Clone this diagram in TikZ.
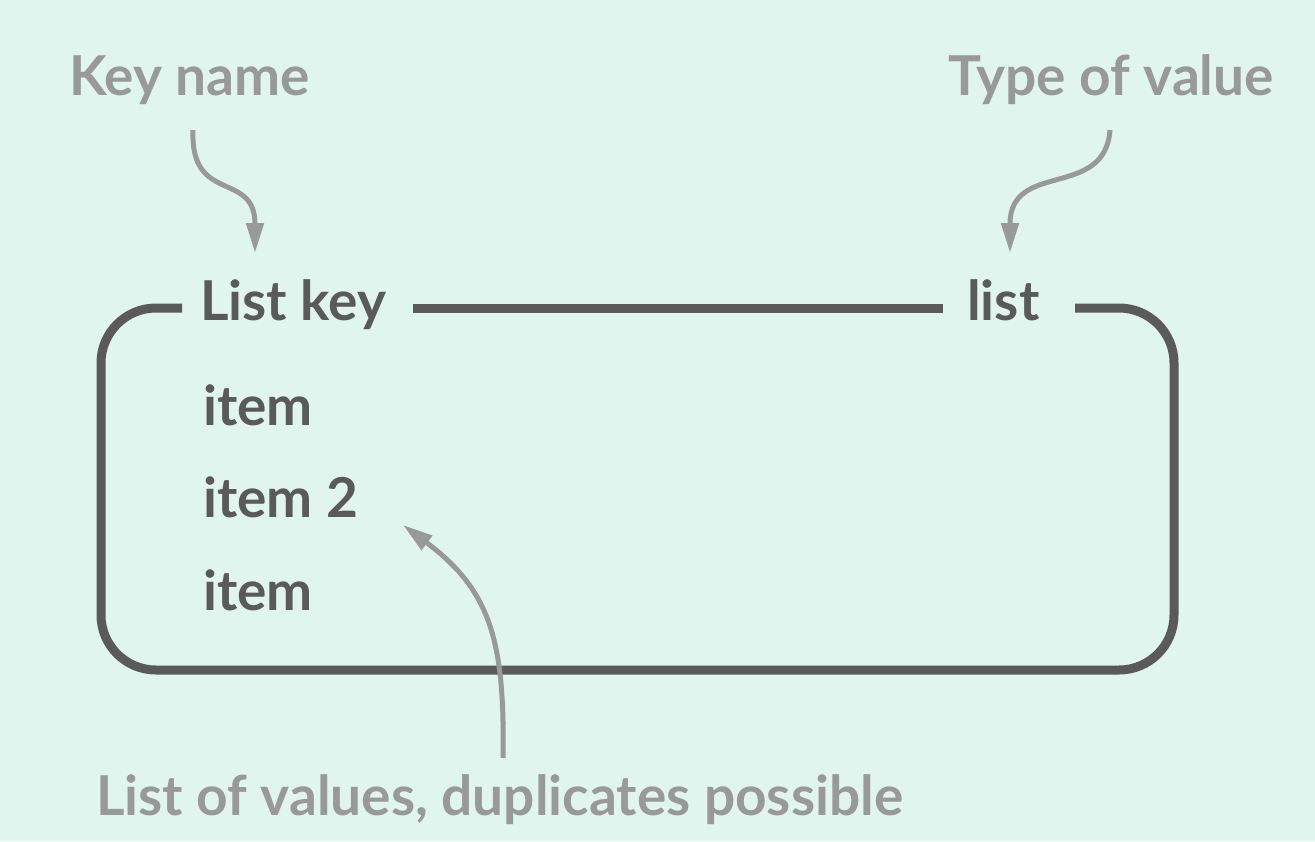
\documentclass[tikz,border=0pt]{standalone}
\usepackage{fontspec}
\setmainfont{Lato}
\usetikzlibrary{arrows.meta}
\definecolor{bgmint}{HTML}{E0F5EE}
\definecolor{darkink}{HTML}{5A5A5A}
\definecolor{lightink}{HTML}{999999}
\begin{document}
\begin{tikzpicture}[x=1pt,y=-1pt,
  label/.style={anchor=base west,inner sep=0pt,text=lightink,font=\fontsize{55}{60}\selectfont\bfseries},
  entry/.style={anchor=base west,inner sep=0pt,text=darkink,font=\fontsize{55}{60}\selectfont\bfseries},
  frame/.style={draw=darkink,line width=9pt,rounded corners=55pt},
  pointer/.style={draw=lightink,line width=5pt,-{Triangle[length=30pt,width=17pt]}}]
  \fill[bgmint] (0,0) rectangle (1315,841);
  \useasboundingbox (0,0) rectangle (1315,841);

  % box outline, broken where the header texts sit
  \draw[frame] (182,308) -- (101,308) -- (101,670) -- (1174,670) -- (1174,308) -- (1075,308);
  \draw[frame] (413,308) -- (943,308);

  % header and entries
  \node[entry] (listkey) at (200,320) {List key};
  \node[entry] (listtype) at (967,320) {list};
  \node[entry] (item1) at (203,425) {item};
  \node[entry] (item2) at (203,517) {item 2};
  \node[entry] (item3) at (203,610) {item};

  % explanatory labels
  \node[label] (keyname) at (69,95) {Key name};
  \node[label] (typeval) at (948,95) {Type of value};
  \node[label] (listvals) at (96,815) {List of values, duplicates possible};

  % pointer ends
  \coordinate (kstart) at (193,130);
  \coordinate (kend) at (255,253);
  \coordinate (tstart) at (1110,130);
  \coordinate (tend) at (1010,253);
  \coordinate (vstart) at (503,758);
  \coordinate (vend) at (403,525);

  \draw[pointer] (kstart) .. controls (190,205) and (255,170) .. (kend);
  \draw[pointer] (tstart) .. controls (1105,200) and (1010,160) .. (tend);
  \draw[pointer] (vstart) .. controls (505,640) and (490,590) .. (vend);
\end{tikzpicture}
\end{document}
